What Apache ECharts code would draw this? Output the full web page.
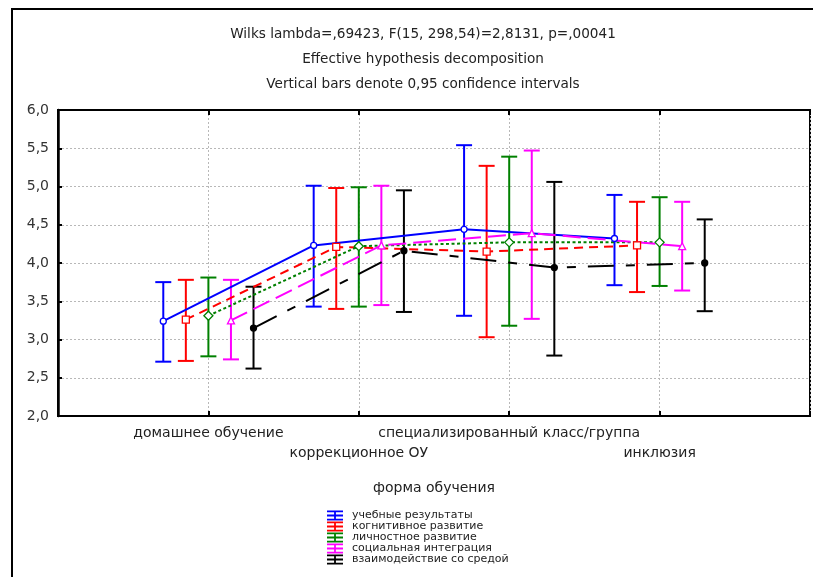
<!DOCTYPE html>
<html>
<head>
<meta charset="utf-8">
<script src="https://cdn.jsdelivr.net/npm/echarts@6/dist/echarts.min.js"></script>
<style>html,body{margin:0;padding:0;background:#fff;}#c{width:813px;height:577px;}</style>
</head>
<body>
<div id="c"></div>
<script>
// ---- data ----
const categories = ['домашнее обучение', 'коррекционное ОУ', 'специализированный класс/группа', 'инклюзия'];
const seriesNames = ['учебные результаты', 'когнитивное развитие', 'личностное развитие', 'социальная интеграция', 'взаимодействие со средой'];
const meanUchebnye = [3.24, 4.23, 4.44, 4.32];
const lowUchebnye  = [2.71, 3.43, 3.31, 3.71];
const highUchebnye = [3.75, 5.01, 5.54, 4.89];
const meanKognit = [3.26, 4.21, 4.15, 4.23];
const lowKognit  = [2.72, 3.40, 3.03, 3.62];
const highKognit = [3.78, 4.98, 5.27, 4.80];
const meanLichn = [3.31, 4.22, 4.27, 4.27];
const lowLichn  = [2.78, 3.43, 3.18, 3.70];
const highLichn = [3.81, 4.99, 5.39, 4.86];
const meanSoc = [3.25, 4.23, 4.39, 4.22];
const lowSoc  = [2.74, 3.45, 3.27, 3.64];
const highSoc = [3.78, 5.01, 5.47, 4.80];
const meanVzaim = [3.15, 4.16, 3.94, 4.00];
const lowVzaim  = [2.62, 3.36, 2.79, 3.37];
const highVzaim = [3.69, 4.95, 5.06, 4.57];
const yTicks = [2.0, 2.5, 3.0, 3.5, 4.0, 4.5, 5.0, 5.5, 6.0];

// ---- presentation ----
const means = [meanUchebnye, meanKognit, meanLichn, meanSoc, meanVzaim];
const lows = [lowUchebnye, lowKognit, lowLichn, lowSoc, lowVzaim];
const highs = [highUchebnye, highKognit, highLichn, highSoc, highVzaim];
const colors = ['#0000ff', '#ff0000', '#008000', '#ff00ff', '#000000'];
const offsets = [-0.3, -0.15, 0, 0.15, 0.3];
const dashes = ['solid', [9, 6], [3, 2.5], [18, 7], [26, 12, 9, 12]];
const symbols = ['circle', 'rect', 'diamond', 'triangle', 'circle'];
const symSizes = [6, 7, 9, 7, 6];
const filled = [false, false, false, false, true];
const FONT = 'DejaVu Sans, Liberation Sans, Arial, sans-serif';

const iconPath = 'path://M0,0H16V1.8H0Z M0,8.2H16V10H0Z M7.1,0H8.9V10H7.1Z M0,4.1H16V5.9H0Z';

const series = [];
seriesNames.forEach((name, s) => {
  series.push({
    type: 'line',
    name: name,
    data: means[s].map((v, i) => [i + 1 + offsets[s], v]),
    color: colors[s],
    lineStyle: { color: colors[s], width: 2, type: dashes[s] },
    symbol: symbols[s],
    symbolSize: symSizes[s],
    itemStyle: { color: filled[s] ? colors[s] : '#fff', borderColor: colors[s], borderWidth: 1.3 },
    showSymbol: true,
    z: 3,
    animation: false
  });
  series.push({
    type: 'custom',
    name: name,
    data: means[s].map((v, i) => [i + 1 + offsets[s], lows[s][i], highs[s][i]]),
    renderItem: function (params, api) {
      const x = api.value(0);
      const p1 = api.coord([x, api.value(1)]);
      const p2 = api.coord([x, api.value(2)]);
      const h = 8;
      const st = { stroke: colors[s], lineWidth: 2 };
      return {
        type: 'group',
        children: [
          { type: 'line', shape: { x1: p1[0], y1: p1[1], x2: p2[0], y2: p2[1] }, style: st },
          { type: 'line', shape: { x1: p1[0] - h, y1: p1[1], x2: p1[0] + h, y2: p1[1] }, style: st },
          { type: 'line', shape: { x1: p2[0] - h, y1: p2[1], x2: p2[0] + h, y2: p2[1] }, style: st }
        ]
      };
    },
    z: 2,
    animation: false
  });
});

const chart = echarts.init(document.getElementById('c'), null, { renderer: 'canvas' });
chart.setOption({
  backgroundColor: '#fff',
  animation: false,
  textStyle: { fontFamily: FONT },
  title: {
    text: 'Wilks lambda=,69423, F(15, 298,54)=2,8131, p=,00041\nEffective hypothesis decomposition\nVertical bars denote 0,95 confidence intervals',
    left: 418,
    top: 17,
    textAlign: 'center',
    textStyle: { fontFamily: FONT, fontSize: 13.6, fontWeight: 'normal', color: '#222', lineHeight: 25 }
  },
  legend: {
    orient: 'vertical',
    left: 327,
    top: 510,
    padding: 0,
    itemWidth: 16,
    itemHeight: 10,
    itemGap: 0,
    textStyle: { fontFamily: FONT, fontSize: 11, lineHeight: 10, color: '#222', padding: [0, 0, 0, 4] },
    data: seriesNames.map((n, s) => ({ name: n, icon: iconPath, itemStyle: { color: colors[s], borderWidth: 0 } }))
  },
  grid: { left: 58, right: 3, top: 110, bottom: 161, show: true, borderColor: '#000', borderWidth: 2, backgroundColor: 'transparent' },
  xAxis: [{
    type: 'value',
    min: 0, max: 5, interval: 1,
    name: 'форма обучения',
    nameLocation: 'middle',
    nameGap: 65,
    nameTextStyle: { fontFamily: FONT, fontSize: 14, color: '#222' },
    axisLine: { show: true, lineStyle: { color: '#000', width: 2 } },
    axisTick: { show: true, inside: true, length: 5, lineStyle: { color: '#000', width: 2 } },
    splitLine: { show: true, lineStyle: { color: '#b8b8b8', type: [2, 2], width: 1 } },
    axisLabel: {
      margin: 7,
      fontFamily: FONT, fontSize: 14, color: '#222', lineHeight: 20,
      formatter: function (v) {
        const i = Math.round(v) - 1;
        if (i < 0 || i >= categories.length) return '';
        return (i % 2 === 1 ? '\n' : '') + categories[i];
      }
    }
  }, {
    type: 'value', position: 'top',
    min: 0, max: 5, interval: 1,
    axisLine: { show: true, lineStyle: { color: '#000', width: 2 } },
    axisTick: { show: true, inside: true, length: 5, lineStyle: { color: '#000', width: 2 } },
    axisLabel: { show: false },
    splitLine: { show: false }
  }],
  yAxis: [{
    type: 'value',
    min: yTicks[0], max: yTicks[yTicks.length - 1], interval: 0.5,
    axisLine: { show: true, lineStyle: { color: '#000', width: 2 } },
    axisTick: { show: true, inside: true, length: 4, lineStyle: { color: '#000', width: 2 } },
    splitLine: { show: true, lineStyle: { color: '#b8b8b8', type: [2, 2], width: 1 } },
    axisLabel: {
      margin: 9,
      fontFamily: FONT, fontSize: 14, color: '#333',
      formatter: function (v) { return v.toFixed(1).replace('.', ','); }
    }
  }, {
    type: 'value', position: 'right',
    min: yTicks[0], max: yTicks[yTicks.length - 1], interval: 0.5,
    axisLine: { show: true, lineStyle: { color: '#000', width: 2.5 } },
    axisTick: { show: false },
    axisLabel: { show: false },
    splitLine: { show: false }
  }],
  graphic: [{
    type: 'polyline',
    shape: { points: [[12, 577], [12, 9], [813, 9]] },
    style: { stroke: '#000', lineWidth: 2, fill: null },
    silent: true
  }],
  series: series
});
</script>
</body>
</html>
